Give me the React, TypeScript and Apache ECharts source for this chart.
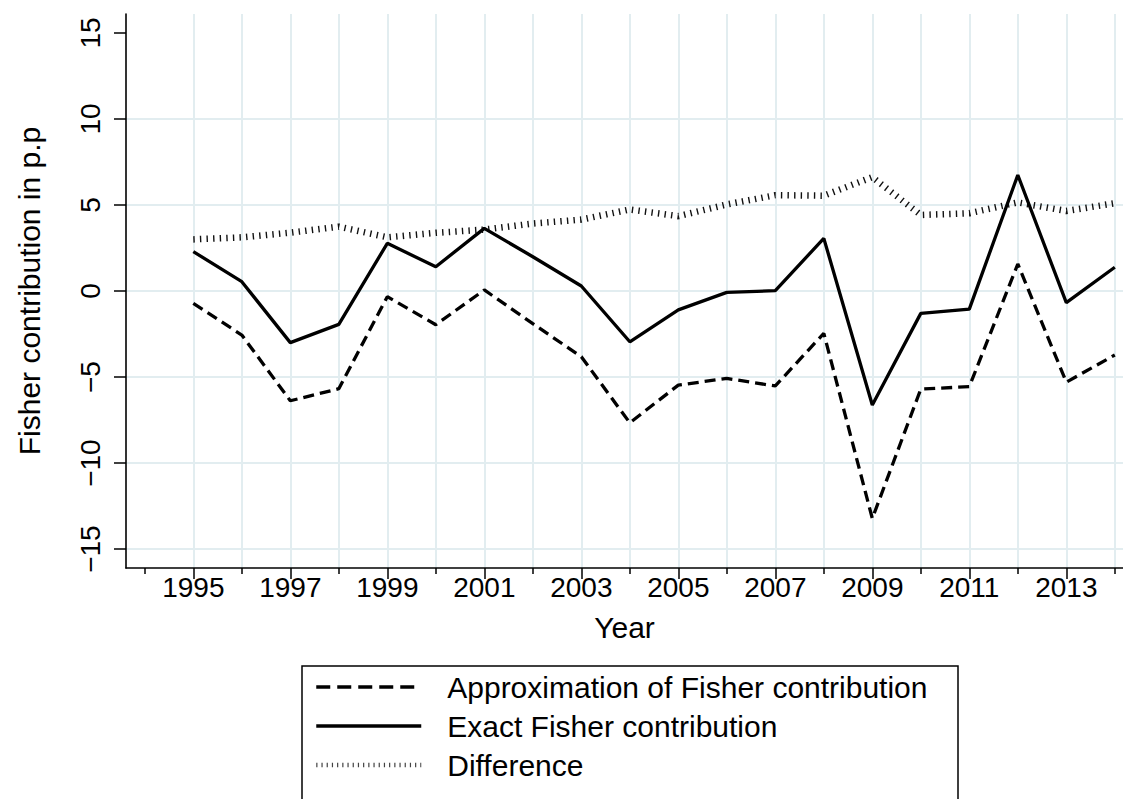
import { useEffect, useRef } from "react";
import * as echarts from "echarts";

const FONT = '"Liberation Sans", Arial, Helvetica, sans-serif';

const years = [
  1995, 1996, 1997, 1998, 1999, 2000, 2001, 2002, 2003, 2004, 2005, 2006, 2007,
  2008, 2009, 2010, 2011, 2012, 2013, 2014,
];
const approximation = [
  -0.72, -2.56, -6.38, -5.68, -0.33, -1.96, 0.06, -1.9, -3.82, -7.66, -5.47,
  -5.08, -5.52, -2.46, -13.22, -5.7, -5.56, 1.57, -5.3, -3.72,
];
const exactContribution = [
  2.29, 0.54, -3.0, -1.94, 2.77, 1.41, 3.64, 1.99, 0.29, -2.95, -1.1, -0.08,
  0.02, 3.06, -6.63, -1.3, -1.05, 6.74, -0.68, 1.38,
];
const difference = [
  3.0, 3.12, 3.39, 3.74, 3.12, 3.38, 3.57, 3.92, 4.15, 4.74, 4.35, 5.03, 5.57,
  5.54, 6.62, 4.42, 4.52, 5.15, 4.65, 5.1,
];

const labelYears = [1995, 1997, 1999, 2001, 2003, 2005, 2007, 2009, 2011, 2013];
const minorYears = [1994, 1996, 1998, 2000, 2002, 2004, 2006, 2008, 2010, 2012, 2014];
const yTicks = [-15, -10, -5, 0, 5, 10, 15];
const yGridLines = [-15, -10, -5, 0, 5, 10];

const seriesNames = [
  "Approximation of Fisher contribution",
  "Exact Fisher contribution",
  "Difference",
];

const X_MIN = 1993.612;
const X_MAX = 2014.169;

const App: React.FC = () => {
  const chartRef = useRef<HTMLDivElement>(null);

  useEffect(() => {
    if (!chartRef.current) return;
    const myChart = echarts.init(chartRef.current, null, { renderer: "svg" });

    const pairs = (vals: number[]) => years.map((y, i) => [y, vals[i]]);

    const option = {
      animation: false,
      textStyle: { fontFamily: FONT, color: "#000" },
      grid: { left: 126, top: 14, right: 0, bottom: 231 },
      xAxis: [
        {
          type: "value",
          min: X_MIN,
          max: X_MAX,
          position: "bottom",
          axisLine: { show: true, onZero: false, lineStyle: { color: "#000", width: 1.6 } },
          axisTick: {
            show: true,
            length: 11,
            customValues: labelYears,
            lineStyle: { color: "#000", width: 1.5 },
          },
          axisLabel: {
            customValues: labelYears,
            fontSize: 28,
            fontFamily: FONT,
            color: "#000",
            margin: 5,
            formatter: (v: number) => String(v),
          },
          splitLine: { show: false },
          name: "Year",
          nameLocation: "middle",
          nameGap: 44,
          nameTextStyle: { fontSize: 30, fontFamily: FONT, color: "#000" },
        },
        {
          type: "value",
          min: X_MIN,
          max: X_MAX,
          position: "bottom",
          axisLine: { show: false, onZero: false },
          axisTick: {
            show: true,
            length: 6,
            customValues: minorYears,
            lineStyle: { color: "#000", width: 1.5 },
          },
          axisLabel: { show: false },
          splitLine: { show: false },
        },
      ],
      yAxis: {
        type: "value",
        min: -16.1,
        max: 16.1,
        axisLine: { show: true, onZero: false, lineStyle: { color: "#000", width: 1.6 } },
        axisTick: {
          show: true,
          length: 12,
          customValues: yTicks,
          lineStyle: { color: "#000", width: 1.5 },
        },
        axisLabel: {
          customValues: yTicks,
          rotate: 90,
          fontSize: 28,
          fontFamily: FONT,
          color: "#000",
          margin: 22,
          formatter: (v: number) => (v < 0 ? "\u2212" + Math.abs(v) : String(v)),
        },
        splitLine: { show: false },
      },
      legend: {
        orient: "vertical",
        left: 314,
        top: 672,
        padding: 0,
        itemWidth: 105,
        itemHeight: 20,
        itemGap: 9,
        selectedMode: false,
        itemStyle: { opacity: 0, borderWidth: 0 },
        textStyle: {
          fontSize: 30,
          fontFamily: FONT,
          color: "#000",
          padding: [0, 0, 0, 21],
        },
        data: [
          { name: seriesNames[0], lineStyle: { width: 3.3, type: [14, 7] } },
          { name: seriesNames[1], lineStyle: { width: 3.3, type: "solid" } },
          {
            name: seriesNames[2],
            lineStyle: { width: 4.5, type: [1.2, 4], color: "#444" },
          },
        ],
      },
      graphic: [
        {
          type: "rect",
          shape: { x: 302, y: 666, width: 656, height: 200 },
          style: { fill: "none", stroke: "#000", lineWidth: 1.5 },
          silent: true,
        },
        {
          type: "text",
          x: 29,
          y: 291,
          rotation: Math.PI / 2,
          style: {
            text: "Fisher contribution in p.p",
            fontSize: 30,
            fontFamily: FONT,
            fill: "#000",
            align: "center",
            verticalAlign: "middle",
          },
          silent: true,
        },
      ],
      series: [
        {
          name: "grid",
          type: "line",
          data: [],
          z: 0,
          silent: true,
          markLine: {
            z: 0,
            silent: true,
            symbol: ["none", "none"],
            label: { show: false },
            lineStyle: { color: "#e2edf0", width: 2, type: "solid" },
            data: [
              ...years.map((y) => ({ xAxis: y })),
              ...yGridLines.map((v) => ({ yAxis: v })),
            ],
          },
        },
        {
          name: seriesNames[0],
          type: "line",
          data: pairs(approximation),
          symbol: "none",
          z: 3,
          itemStyle: { color: "#000" },
          lineStyle: { color: "#000", width: 3.3, type: [11, 6] },
        },
        {
          name: seriesNames[1],
          type: "line",
          data: pairs(exactContribution),
          symbol: "none",
          z: 4,
          itemStyle: { color: "#000" },
          lineStyle: { color: "#000", width: 3.3, type: "solid" },
        },
        {
          name: seriesNames[2],
          type: "line",
          data: pairs(difference),
          symbol: "none",
          z: 2,
          itemStyle: { color: "#111" },
          lineStyle: { color: "#111", width: 6.5, type: [1.4, 5.2] },
        },
      ],
    };

    myChart.setOption(option);

    return () => {
      myChart.dispose();
    };
  }, []);

  return (
    <div
      ref={chartRef}
      style={{ position: "fixed", left: 0, top: 0, width: "1123px", height: "799px", background: "#fff" }}
    />
  );
};

export default App;
